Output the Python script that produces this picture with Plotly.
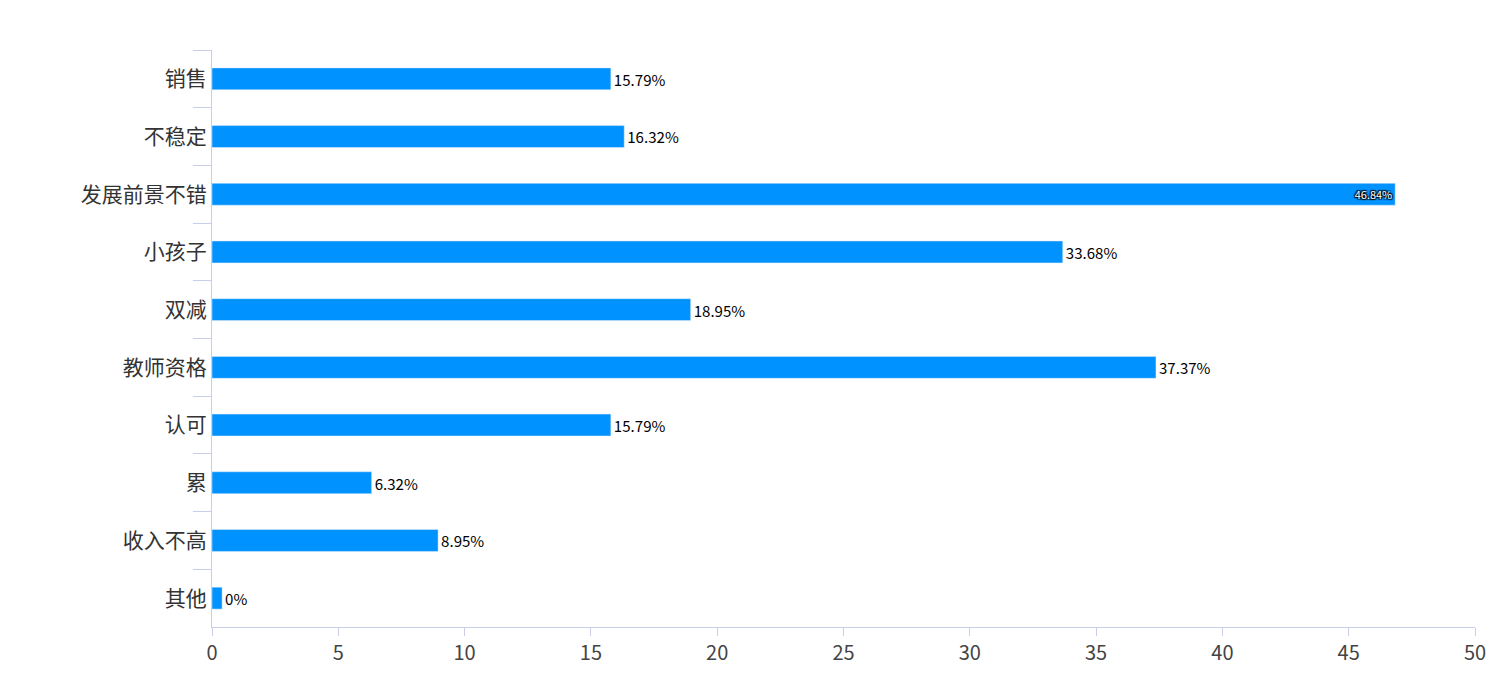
import plotly.graph_objects as go

categories = ['销售', '不稳定', '发展前景不错', '小孩子', '双减', '教师资格', '认可', '累', '收入不高', '其他']
values = [15.79, 16.32, 46.84, 33.68, 18.95, 37.37, 15.79, 6.32, 8.95, 0]
labels = ['15.79%', '16.32%', '46.84%', '33.68%', '18.95%', '37.37%', '15.79%', '6.32%', '8.95%', '0%']

# zero bars still get a thin stub like the original
bar_len = [max(v, 0.4) for v in values]
positions = ['inside' if v > 45 else 'outside' for v in values]

fig = go.Figure(go.Bar(
    x=bar_len, y=categories, orientation='h',
    marker=dict(color='#0092ff'),
    text=labels, textposition=positions, insidetextanchor='end',
    textfont=dict(size=22, color=['white' if p == 'inside' else 'black' for p in positions],
                  shadow=['1px 1px 1px black, -1px -1px 1px black, 1px -1px 1px black, -1px 1px 1px black' if p == 'inside' else 'none' for p in positions]),
    cliponaxis=False, hoverinfo='x+y',
))

fig.update_layout(
    width=1509, height=689, plot_bgcolor='white', paper_bgcolor='white',
    margin=dict(l=204, r=42, t=42, b=70),
    font=dict(family='Noto Sans CJK SC, sans-serif', color='#333'),
    bargap=0.62, showlegend=False,
)
fig.update_xaxes(range=[0, 50], dtick=5, showgrid=False, zeroline=False,
                 showline=True, linecolor='#c8cde8', ticks='outside', tickcolor='#c8cde8',
                 ticklen=8, tickfont=dict(size=20, color='#444'))
fig.update_yaxes(autorange='reversed', showgrid=False, showline=True, linecolor='#c8cde8',
                 ticks='outside', tickson='boundaries', ticklen=18, tickcolor='#c8cde8',
                 tickfont=dict(size=21, color='#333'))

fig.write_html('out.html')
